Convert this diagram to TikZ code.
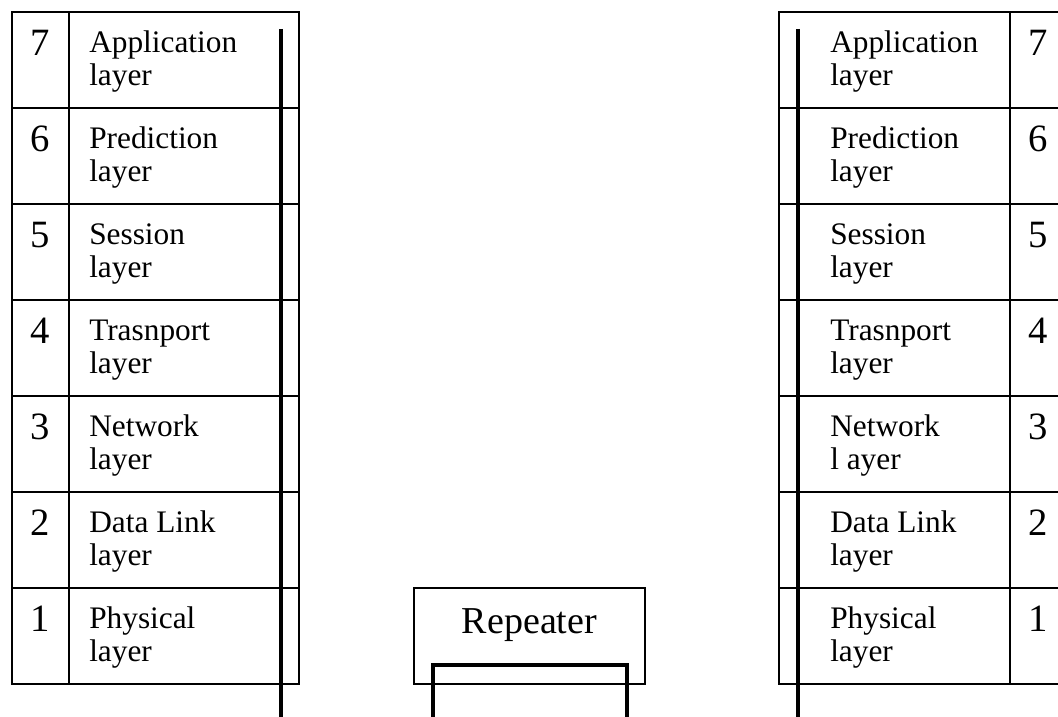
\documentclass[tikz,border=0pt]{standalone}
\usepackage{fontspec}
\setmainfont{Liberation Serif}

\begin{document}
\begin{tikzpicture}[
            x=0.75pt, y=-0.75pt,
            box/.style={draw, line width=0.9pt},
            wire/.style={line width=2.6pt},
            num/.style={anchor=base, inner sep=0pt, font=\fontsize{29}{33}\selectfont},
            txt/.style={anchor=base west, inner sep=0pt, align=left, font=\fontsize{23.5}{24.75}\selectfont},
            ]
            \clip (0,0) rectangle (1058,717);
            % the two stacks
            \draw[box] (12,12) rectangle (299,684);
            \draw[box] (69,12) -- (69,684);
            \draw[box] (779,12) rectangle (1066,684);
            \draw[box] (1010,12) -- (1010,684);
            \foreach \n/\a/\b/\bb [count=\i from 0] in {7/Application/layer/layer, 6/Prediction/layer/layer,
                    5/Session/layer/layer, 4/Trasnport/layer/layer, 3/Network/layer/l ayer,
                    2/Data Link/layer/layer, 1/Physical/layer/layer} {
                \draw[box] (12,{12+96*\i}) -- (299,{12+96*\i});
                \draw[box] (779,{12+96*\i}) -- (1066,{12+96*\i});
                \node[num] (ln\n) at (40,{55.5+96*\i}) {\n};
                \node[txt] (lt\n) at (89,{85.5+96*\i}) {\a\\\b};
                \node[num] (rn\n) at (1038,{55.5+96*\i}) {\n};
                \node[txt] (rt\n) at (830,{85.5+96*\i}) {\a\\\bb};
            }
            % repeater
            \node[box, minimum width=173.25pt, minimum height=72pt, text height=18pt, text depth=22.5pt,
                  font=\fontsize{28.5}{33}\selectfont] (rep) at (529.5,636) {Repeater};
            \begin{scope}[wire]
                \coordinate (lw) at (281,29);
                \coordinate (rw) at (798,29);
                \draw (lw) -- (281,717);
                \draw (rw) -- (798,717);
                \draw (433,717) -- (433,665) -- (627,665) -- (627,717);
            \end{scope}
        \end{tikzpicture}
\end{document}
